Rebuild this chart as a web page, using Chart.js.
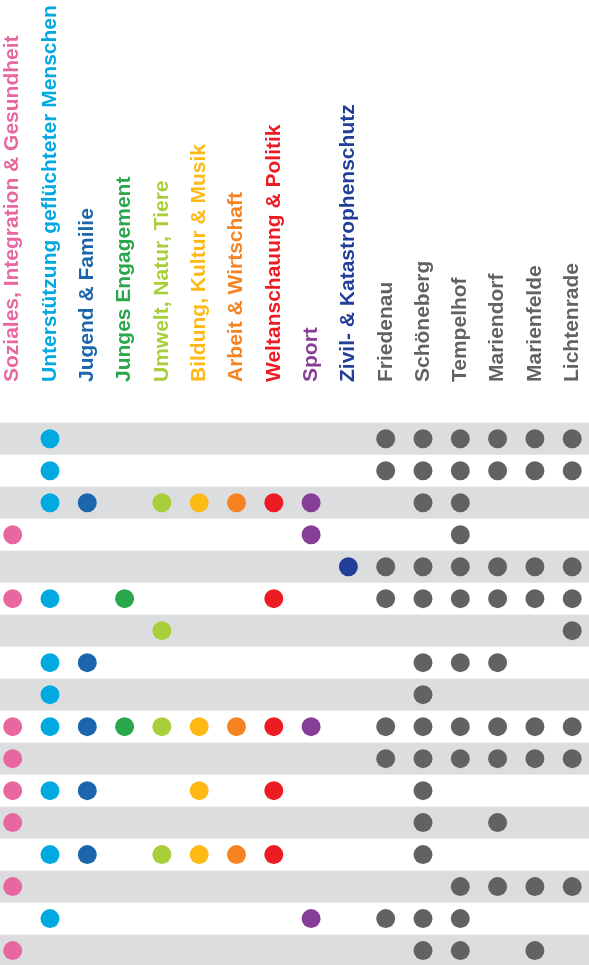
<!DOCTYPE html>
<html>
<head>
<meta charset="utf-8">
<script src="https://cdn.jsdelivr.net/npm/chart.js@4.4.0/dist/chart.umd.min.js"></script>
<style>
  html, body { margin: 0; padding: 0; background: #fff; }
  canvas { display: block; }
</style>
</head>
<body>
<canvas id="dotChart" width="589" height="965"></canvas>
<script>
// themen (farbige spalten) + ortsteile (graue spalten)
const categories = [
  'Soziales, Integration & Gesundheit',
  'Unterstützung geflüchteter Menschen',
  'Jugend & Familie',
  'Junges Engagement',
  'Umwelt, Natur, Tiere',
  'Bildung, Kultur & Musik',
  'Arbeit & Wirtschaft',
  'Weltanschauung & Politik',
  'Sport',
  'Zivil- & Katastrophenschutz'
];
const districts = ['Friedenau', 'Schöneberg', 'Tempelhof', 'Mariendorf', 'Marienfelde', 'Lichtenrade'];

const categoryColors = ['#e8679f', '#00a9e0', '#1c66ab', '#2aa64b', '#a8cf3a', '#fdb915', '#f58322', '#ed1c24', '#873e96', '#213f99'];
const districtColor = '#626264';

// eine zeile pro organisation: 1 = trifft zu
const themeRows = [
  [0,1,0,0,0,0,0,0,0,0],
  [0,1,0,0,0,0,0,0,0,0],
  [0,1,1,0,1,1,1,1,1,0],
  [1,0,0,0,0,0,0,0,1,0],
  [0,0,0,0,0,0,0,0,0,1],
  [1,1,0,1,0,0,0,1,0,0],
  [0,0,0,0,1,0,0,0,0,0],
  [0,1,1,0,0,0,0,0,0,0],
  [0,1,0,0,0,0,0,0,0,0],
  [1,1,1,1,1,1,1,1,1,0],
  [1,0,0,0,0,0,0,0,0,0],
  [1,1,1,0,0,1,0,1,0,0],
  [1,0,0,0,0,0,0,0,0,0],
  [0,1,1,0,1,1,1,1,0,0],
  [1,0,0,0,0,0,0,0,0,0],
  [0,1,0,0,0,0,0,0,1,0],
  [1,0,0,0,0,0,0,0,0,0]
];
const districtRows = [
  [1,1,1,1,1,1],
  [1,1,1,1,1,1],
  [0,1,1,0,0,0],
  [0,0,1,0,0,0],
  [1,1,1,1,1,1],
  [1,1,1,1,1,1],
  [0,0,0,0,0,1],
  [0,1,1,1,0,0],
  [0,1,0,0,0,0],
  [1,1,1,1,1,1],
  [1,1,1,1,1,1],
  [0,1,0,0,0,0],
  [0,1,0,1,0,0],
  [0,1,0,0,0,0],
  [0,0,1,1,1,1],
  [1,1,1,0,0,0],
  [0,1,1,0,1,0]
];

const columnLabels = categories.concat(districts);
const columnColors = categoryColors.concat(districts.map(() => districtColor));

const datasets = columnLabels.map((name, col) => {
  const points = [];
  const rows = col < categories.length ? themeRows : districtRows;
  const idx = col < categories.length ? col : col - categories.length;
  rows.forEach((row, r) => {
    if (row[idx]) points.push({ x: col, y: r });
  });
  return {
    label: name,
    data: points,
    backgroundColor: columnColors[col],
    borderWidth: 0,
    pointRadius: 9.5,
    pointHoverRadius: 9.5,
  };
});

// graue streifen hinter jeder zweiten zeile
const stripes = {
  id: 'stripes',
  beforeDatasetsDraw(chart) {
    const { ctx, chartArea, scales } = chart;
    ctx.save();
    ctx.fillStyle = '#dcdddf';
    for (let r = 0; r < themeRows.length; r += 2) {
      const y1 = scales.y.getPixelForValue(r - 0.5);
      const y2 = scales.y.getPixelForValue(r + 0.5);
      ctx.fillRect(chartArea.left, y1, chartArea.right - chartArea.left, y2 - y1);
    }
    ctx.restore();
  }
};

new Chart(document.getElementById('dotChart'), {
  type: 'scatter',
  data: { datasets },
  options: {
    responsive: false,
    animation: false,
    layout: { padding: 0, autoPadding: false },
    plugins: {
      legend: { display: false },
      tooltip: { enabled: false },
    },
    scales: {
      x: {
        type: 'linear',
        position: 'top',
        min: -0.34,
        max: 15.45,
        grid: { display: false, drawTicks: false },
        border: { display: false },
        afterBuildTicks: (scale) => {
          scale.ticks = columnLabels.map((_, i) => ({ value: i }));
        },
        afterFit: (scale) => {
          scale.height = 423;
          scale.paddingLeft = 0;
          scale.paddingRight = 0;
        },
        ticks: {
          autoSkip: false,
          minRotation: 90,
          maxRotation: 90,
          padding: 41,
          color: (ctx) => columnColors[ctx.index],
          font: { family: '"Liberation Sans", Arial, sans-serif', size: 21, weight: 'bold', lineHeight: 0 },
          callback: (value) => columnLabels[value],
        },
      },
      y: {
        type: 'linear',
        display: false,
        reverse: true,
        min: -0.49,
        max: 16.45,
      },
    },
  },
  plugins: [stripes],
});
</script>
</body>
</html>
